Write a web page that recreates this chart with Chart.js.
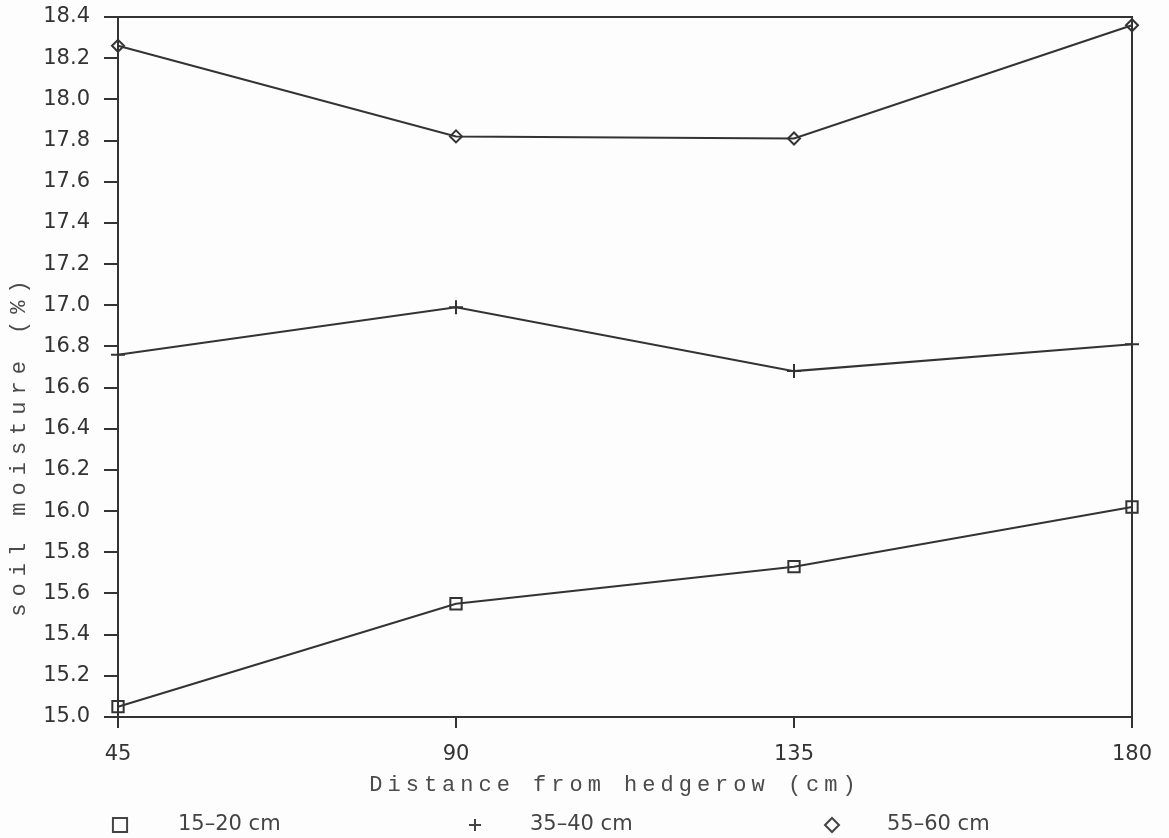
<!DOCTYPE html>
<html>
<head>
<meta charset="utf-8">
<script src="https://cdn.jsdelivr.net/npm/chart.js@4/dist/chart.umd.min.js"></script>
<style>
  html, body { margin: 0; padding: 0; background: #fdfdfd; }
  #wrap { width: 1169px; height: 838px; position: relative; }
</style>
</head>
<body>
<div id="wrap"><canvas id="moistureChart" width="1169" height="838"></canvas></div>
<script>
  // distance from the hedgerow (cm) and moisture per depth band
  var distances = ["45", "90", "135", "180"];
  var depthLabels = ["15\u201320 cm", "35\u201340 cm", "55\u201360 cm"];
  var depth15to20 = [15.05, 15.55, 15.73, 16.02];
  var depth35to40 = [16.76, 16.99, 16.68, 16.81];
  var depth55to60 = [18.26, 17.82, 17.81, 18.36];

  var ink = "#333333";
  var markerStyles = ["rect", "cross", "rectRot"];
  var markerSizes = [8, 7, 6];
  var legendSizes = [10, 6, 7];

  function makeSeries(label, values, i) {
    return {
      label: label,
      data: values,
      borderColor: ink,
      borderWidth: 2,
      pointStyle: markerStyles[i],
      pointRadius: markerSizes[i],
      pointBorderColor: ink,
      pointBackgroundColor: "rgba(0,0,0,0)",
      pointBorderWidth: 2,
      tension: 0,
      clip: false,
    };
  }

  // frame on top/right, spaced-out axis titles and the legend row underneath
  var decorations = {
    id: "decorations",
    afterDraw: function (chart) {
      var ctx = chart.ctx;
      var area = chart.chartArea;
      ctx.save();
      ctx.strokeStyle = ink;
      ctx.lineWidth = 2;
      ctx.beginPath();
      ctx.moveTo(area.left, area.top);
      ctx.lineTo(area.right, area.top);
      ctx.lineTo(area.right, area.bottom);
      ctx.stroke();

      ctx.fillStyle = "#4a4a4a";
      ctx.font = "22px 'Liberation Mono', monospace";
      ctx.textBaseline = "middle";
      ctx.textAlign = "center";
      ctx.letterSpacing = "5px";
      ctx.fillText("Distance from hedgerow (cm)", 615, 785);

      ctx.save();
      ctx.translate(19, 449);
      ctx.rotate(-Math.PI / 2);
      ctx.letterSpacing = "7px";
      ctx.fillText("soil moisture (%)", 4, 0);
      ctx.restore();

      ctx.letterSpacing = "0px";
      ctx.textAlign = "left";
      ctx.font = "21px 'DejaVu Sans', sans-serif";
      var markerX = [120, 475, 832];
      var textX = [178, 530, 887];
      var rowY = 825;
      for (var i = 0; i < depthLabels.length; i++) {
        ctx.fillStyle = "rgba(0,0,0,0)";
        ctx.strokeStyle = "#444";
        Chart.helpers.drawPoint(ctx, {
          pointStyle: markerStyles[i],
          radius: legendSizes[i],
          borderWidth: 2.5,
        }, markerX[i], rowY);
        ctx.fillStyle = "#444";
        ctx.fillText(depthLabels[i], textX[i], rowY);
      }
      ctx.restore();
    },
  };

  var chartCtx = document.getElementById("moistureChart").getContext("2d");

  new Chart(chartCtx, {
    type: "line",
    data: {
      labels: distances,
      datasets: [
        makeSeries(depthLabels[0], depth15to20, 0),
        makeSeries(depthLabels[1], depth35to40, 1),
        makeSeries(depthLabels[2], depth55to60, 2),
      ],
    },
    options: {
      responsive: false,
      animation: false,
      layout: { padding: { top: 17, right: 37, left: 0, bottom: 0 } },
      plugins: {
        legend: { display: false },
        tooltip: { enabled: false },
      },
      scales: {
        x: {
          type: "category",
          offset: false,
          afterFit: function (scale) { scale.height = 121; },
          grid: {
            drawOnChartArea: false,
            tickLength: 11,
            color: ink,
            lineWidth: 2,
          },
          border: { color: ink, width: 2 },
          ticks: {
            padding: 14,
            color: "#333",
            font: { family: "'DejaVu Sans', sans-serif", size: 21 },
            maxRotation: 0,
          },
        },
        y: {
          min: 15,
          max: 18.4,
          afterFit: function (scale) {
            scale.width = 118;
            scale.paddingTop = 0;
            scale.paddingBottom = 0;
          },
          grid: {
            drawOnChartArea: false,
            tickLength: 14,
            color: ink,
            lineWidth: 2,
          },
          border: { color: ink, width: 2 },
          ticks: {
            stepSize: 0.2,
            padding: 14,
            color: "#333",
            font: { family: "'DejaVu Sans', sans-serif", size: 21 },
            callback: function (v) { return v.toFixed(1); },
          },
        },
      },
    },
    plugins: [decorations],
  });
</script>
</body>
</html>
